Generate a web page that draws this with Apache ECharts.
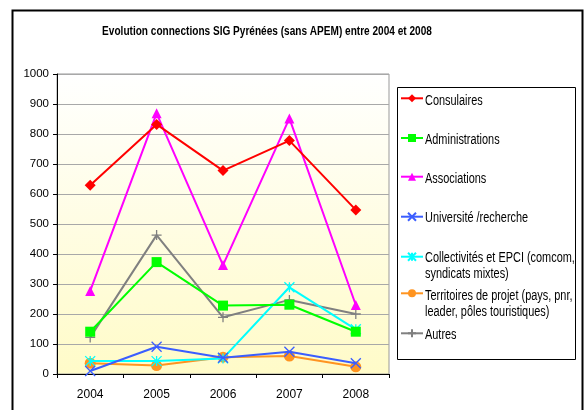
<!DOCTYPE html>
<html><head><meta charset="utf-8">
<script src="https://cdn.jsdelivr.net/npm/echarts@6/dist/echarts.min.js"></script>
<style>html,body{margin:0;padding:0;background:#fff}#c{width:585px;height:410px}</style>
</head><body><div id="c"></div>
<script>
const years = ['2004','2005','2006','2007','2008'];
const consulaires = [629, 832, 678, 778, 547];
const administrations = [141, 373, 228, 231, 141];
const associations = [277, 869, 363, 852, 230];
const universite = [10, 91, 54, 74, 36];
const collectivites = [43, 43, 52, 289, 149];
const territoires = [36, 28, 56, 60, 24];
const autres = [122, 463, 189, 247, 200];
const yTicks = [0, 100, 200, 300, 400, 500, 600, 700, 800, 900, 1000];
const titleText = 'Evolution connections SIG Pyrénées (sans APEM) entre 2004 et 2008';

const FONT = "'Liberation Sans', Arial, sans-serif";
const names = ['Consulaires','Administrations','Associations','Université /recherche',
  'Collectivités et EPCI (comcom,\nsyndicats mixtes)',
  'Territoires de projet (pays, pnr,\nleader, pôles touristiques)','Autres'];
const datas = [consulaires, administrations, associations, universite, collectivites, territoires, autres];
const colors = ['#FF0000','#00FF00','#FF00FF','#3B5EFF','#00FFFF','#FF9420','#808080'];
const symbols = ['diamond','rect','triangle',
  'path://M0,0L10,10M10,0L0,10',
  'path://M0,0L10,10M10,0L0,10M5,0L5,10',
  'circle',
  'path://M5,0L5,10M0,5L10,5'];
const sizes = [11, 10, 10, 10, 10, 11, 10];
const stroked = [false,false,false,true,true,false,true];
// layout: vertical centre of each legend row (first text line)
const legendRowY = [99.3, 139, 177.7, 216.7, 256.7, 294.3, 333.3];

const series = names.map((n,i)=>({
  name:n, type:'line', data:datas[i], symbol:symbols[i], symbolSize:sizes[i],
  lineStyle:{color:colors[i], width:2},
  itemStyle: stroked[i] ? {color:colors[i], borderColor:colors[i], borderWidth:1.3} : {color:colors[i]},
  emphasis:{disabled:true}, animation:false, z: 10-i
}));

const legends = names.map((n,i)=>({
  data:[n], orient:'vertical', left:400, top:legendRowY[i]-5, padding:0,
  itemWidth:22, itemHeight:10, itemGap:0, selectedMode:false,
  formatter: ()=> '',
  textStyle:{fontSize:8, lineHeight:8}
}));

const legendTexts = names.map((n,i)=>({
  type:'text', x:425, y:legendRowY[i]-6.5, scaleX:0.78, z:20,
  style:{text:n, fill:'#000', font:"14px " + FONT, lineHeight:16, verticalAlign:'top', align:'left'}
}));

const chart = echarts.init(document.getElementById('c'), null, {renderer:'canvas'});
chart.setOption({
  animation:false,
  graphic:[
    {type:'rect', shape:{x:12.5,y:10.5,width:570,height:420}, style:{fill:'none', stroke:'#000', lineWidth:2}, z:-1},
    {type:'rect', shape:{x:397.5,y:87.5,width:178,height:272}, style:{fill:'#fff', stroke:'#000', lineWidth:1}, z:-1},
    {type:'text', x:267, y:31, scaleX:0.775, z:20,
      style:{text:titleText, fill:'#000', font:"bold 13px " + FONT, align:'center', verticalAlign:'middle'}}
  ].concat(legendTexts),
  legend: legends,
  grid:{left:57, right:196, top:74, bottom:36, show:true, borderColor:'#999', borderWidth:1,
    backgroundColor:{type:'linear', x:0, y:0, x2:0, y2:1, colorStops:[{offset:0,color:'#FFFFFF'},{offset:1,color:'#FFFBC8'}]}},
  xAxis:{type:'category', data:years, boundaryGap:true,
    axisLine:{lineStyle:{color:'#000', width:1}},
    axisTick:{show:true, length:4, lineStyle:{color:'#000'}},
    axisLabel:{fontFamily:FONT, fontSize:12, color:'#000', margin:15}},
  yAxis:{type:'value', min:yTicks[0], max:yTicks[yTicks.length-1], interval:100,
    axisLine:{show:true, lineStyle:{color:'#000', width:1}},
    axisTick:{show:true, length:4, lineStyle:{color:'#000'}},
    axisLabel:{fontFamily:FONT, fontSize:11.5, color:'#000', margin:8, formatter:(v)=>String(v)},
    splitLine:{lineStyle:{color:'#A8A8A8', width:1}}},
  series: series
});
</script></body></html>
